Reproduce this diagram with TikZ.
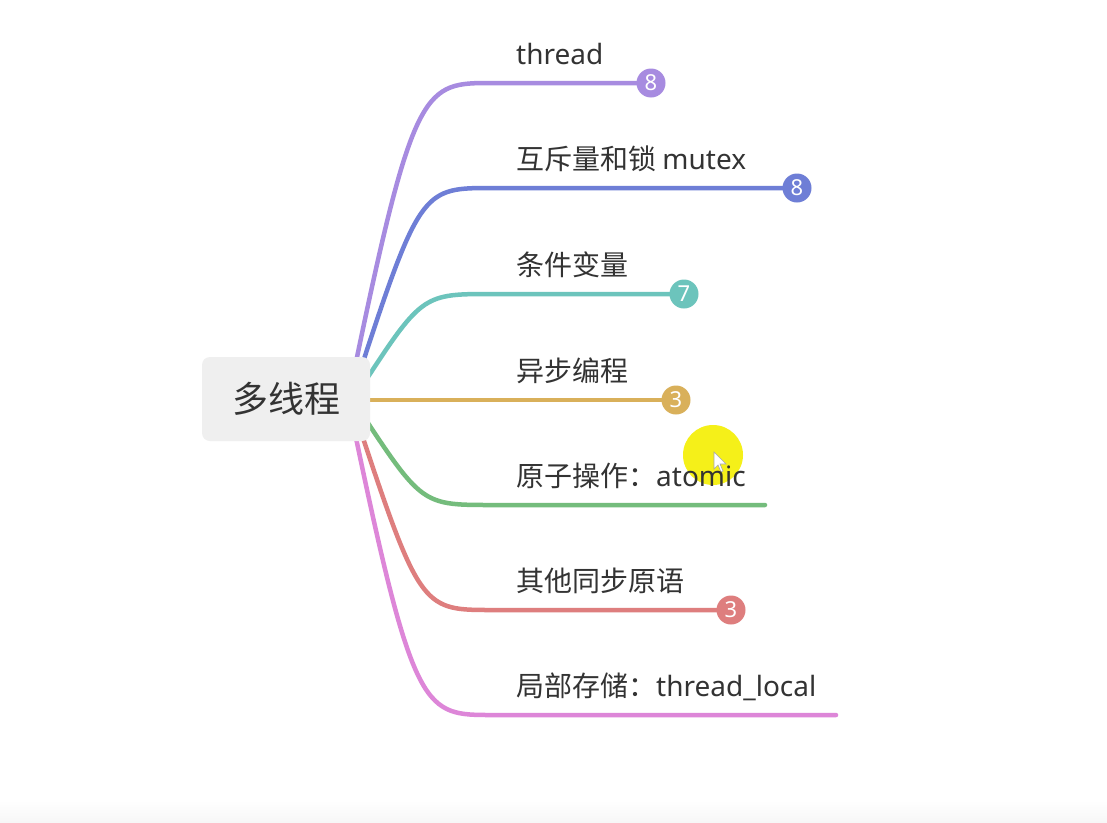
\documentclass[tikz,border=0pt]{standalone}
\usepackage{fontspec}
\setmainfont{Noto Sans}
\newfontfamily\cjk{Noto Sans CJK SC}
\usetikzlibrary{backgrounds}
\definecolor{cPurple}{HTML}{A78BE0}
\definecolor{cBlue}{HTML}{6E7ED6}
\definecolor{cTeal}{HTML}{6CC4BC}
\definecolor{cGold}{HTML}{D9B05A}
\definecolor{cGreen}{HTML}{74BC7C}
\definecolor{cRed}{HTML}{DE7E7E}
\definecolor{cPink}{HTML}{DD86D8}
\definecolor{rootfill}{HTML}{EFEFEF}
\definecolor{txt}{HTML}{333333}
\definecolor{hilite}{HTML}{F4EF00}
\begin{document}
\begin{tikzpicture}[x=1pt,y=-1pt,
  branch/.style={line width=4.5pt, line cap=round},
  badge/.style={circle, fill=#1, text=white, minimum size=29pt, inner sep=0pt,
    font=\fontsize{22}{22}\selectfont},
  lbl/.style={anchor=base west, text=txt, inner sep=0pt, font=\fontsize{28}{28}\selectfont},
  rootbox/.style={rectangle, rounded corners=8pt, fill=rootfill, minimum width=168pt,
    minimum height=84pt, text=txt, font=\fontsize{36}{36}\selectfont\cjk}]
\useasboundingbox (0,0) rectangle (1107,822);
\begin{scope}[on background layer]
  \fill[white] (0,0) rectangle (1107,822);
  \shade[top color=white, bottom color={rgb,255:red,247;green,247;blue,247}] (0,800) rectangle (1107,822);
\end{scope}

% root
\node[rootbox] (root) at (286,399) {多线程};

% start points (under the root box)
\coordinate (s1) at (356,362);
\coordinate (s2) at (363,362);
\coordinate (s3) at (366,380);
\coordinate (s4) at (366,400);
\coordinate (s5) at (366,420);
\coordinate (s6) at (363,438);
\coordinate (s7) at (356,438);

% bend ends
\coordinate (e1) at (492,83);
\coordinate (e2) at (492,188);
\coordinate (e3) at (492,294);
\coordinate (e4) at (492,400);
\coordinate (e5) at (492,505);
\coordinate (e6) at (492,610);
\coordinate (e7) at (492,715);

% highlight (cursor)
\fill[hilite, opacity=0.9] (713,455) circle (30);
\draw[gray!70, fill=white, line width=0.6pt] (714,452) -- (714,469) -- (718,465) -- (721,472) -- (723,471) -- (720,464) -- (726,464) -- cycle;

% badges and free ends
\node[badge=cPurple] (b1) at (651,83) {8};
\node[badge=cBlue] (b2) at (797,188) {8};
\node[badge=cTeal] (b3) at (684,294) {7};
\node[badge=cGold] (b4) at (676,400) {3};
\coordinate (b5) at (765,505);
\node[badge=cRed] (b6) at (731,610) {3};
\coordinate (b7) at (836,715);

% labels
\node[lbl] (t1) at (516,64) {thread};
\node[lbl] (t2) at (516,169) {\cjk 互斥量和锁\ \normalfont mutex};
\node[lbl] (t3) at (516,275) {\cjk 条件变量};
\node[lbl] (t4) at (516,381) {\cjk 异步编程};
\node[lbl] (t5) at (516,486) {\cjk 原子操作：\normalfont atomic};
\node[lbl] (t6) at (516,591) {\cjk 其他同步原语};
\node[lbl] (t7) at (516,696) {\cjk 局部存储：\normalfont thread\_local};

% branches
\begin{scope}[on background layer]
\draw[branch, cPurple] (s1) .. controls (414,83) and (425,83) .. (e1) -- (b1.center);
\draw[branch, cBlue]   (s2) .. controls (420,188) and (425,188) .. (e2) -- (b2.center);
\draw[branch, cTeal]   (s3) .. controls (422,294) and (425,294) .. (e3) -- (b3.center);
\draw[branch, cGold]   (s4) -- (e4) -- (b4.center);
\draw[branch, cGreen]  (s5) .. controls (422,505) and (425,505) .. (e5) -- (b5);
\draw[branch, cRed]    (s6) .. controls (420,610) and (425,610) .. (e6) -- (b6.center);
\draw[branch, cPink]   (s7) .. controls (414,715) and (425,715) .. (e7) -- (b7);
\end{scope}
\end{tikzpicture}
\end{document}
